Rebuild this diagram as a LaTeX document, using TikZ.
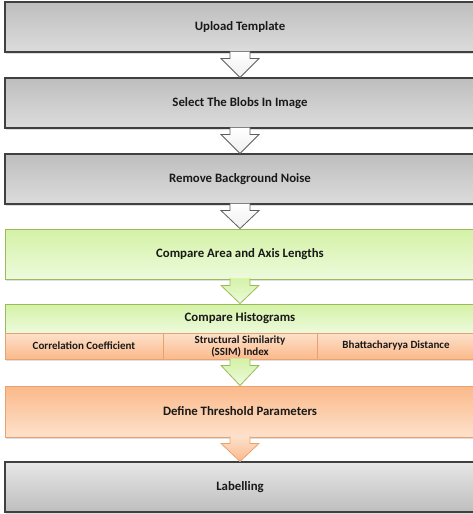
\documentclass[tikz,border=0pt]{standalone}
\usepackage{fontspec}
\setmainfont{Carlito}
\usepackage{xcolor}
\usepackage{tikz}
\usetikzlibrary{calc}
\usetikzlibrary{shadows}

\definecolor{grayedge}{HTML}{404040}
\definecolor{grayTop}{HTML}{BEBEBE}
\definecolor{grayBot}{HTML}{DCDCDC}
\definecolor{greenedge}{HTML}{9BBB59}
\definecolor{greenTop}{HTML}{D4F2A6}
\definecolor{greenBot}{HTML}{EDFADC}
\definecolor{orangeedge}{HTML}{E9A26E}
\definecolor{orangeTop}{HTML}{FBB98A}
\definecolor{orangeBot}{HTML}{FDE1CB}

\begin{document}
\begin{tikzpicture}
                \tikzset{Step/.style={%
                    shape=rectangle,%
                    minimum width=470pt,%
                    minimum height=50pt,%
                    inner sep=0pt,%
                    font=\fontsize{12.8}{14}\selectfont\bfseries,%
                    text=black!90,%
                    drop shadow={opacity=0.25,shadow xshift=1pt,shadow yshift=-2pt},%
                }}
                \tikzset{GrayStep/.style={%
                    Step,%
                    draw=grayedge,%
                    line width=1.1pt,%
                    top color=grayTop,%
                    bottom color=grayBot,%
                }}
                \tikzset{GreenStep/.style={%
                    Step,%
                    draw=greenedge,%
                    line width=0.8pt,%
                    top color=greenTop,%
                    bottom color=greenBot,%
                }}
                \tikzset{OrangeStep/.style={%
                    Step,%
                    draw=orangeedge,%
                    line width=0.8pt,%
                    top color=orangeTop,%
                    bottom color=orangeBot,%
                }}
                \tikzset{Method/.style={%
                    OrangeStep,%
                    minimum height=26pt,%
                    align=center,%
                    top color=orangeBot,%
                    bottom color=orangeTop,%
                    font=\fontsize{11}{12}\selectfont\bfseries,%
                }}
                \tikzset{Flow/.style={%
                    to path={let \p1=(\tikztostart), \p2=(\tikztotarget) in
                        (\x1-10pt,\y1+1pt) -- (\x1-10pt,\y1-6pt) -- (\x1-19pt,\y1-6pt)
                        -- (\x2,\y2) -- (\x1+19pt,\y1-6pt) -- (\x1+10pt,\y1-6pt)
                        -- (\x1+10pt,\y1+1pt)},%
                    line width=0.8pt,%
                    line join=miter,%
                }}
                \tikzset{GrayFlow/.style={Flow, draw=grayedge!85, top color=white, bottom color=gray!12}}
                \tikzset{GreenFlow/.style={Flow, draw=greenedge, top color=greenTop, bottom color=greenBot}}
                \tikzset{OrangeFlow/.style={Flow, draw=orangeedge, top color=orangeBot, bottom color=orangeTop}}

                \useasboundingbox (0,0) rectangle (472pt,-514pt);

                \node[GrayStep] (b1) at (240pt,-27pt) {Upload Template};
                \node[GrayStep, below of=b1, node distance=76pt] (b2) {Select The Blobs In Image};
                \node[GrayStep, below of=b2, node distance=76pt] (b3) {Remove Background Noise};
                \node[GreenStep, below of=b3, node distance=75pt] (b4) {Compare Area and Axis Lengths};
                \node[GreenStep, minimum height=29pt, below of=b4, node distance=64.5pt] (hist) {Compare Histograms};
                \node[Method, minimum width=154pt, below of=hist, node distance=27.5pt] (ssim) {Structural Similarity\\(SSIM) Index};
                \node[Method, minimum width=158pt, left of=ssim, node distance=156pt] (corr) {Correlation Coefficient};
                \node[Method, minimum width=158pt, right of=ssim, node distance=156pt] (bhat) {Bhattacharyya Distance};
                \node[OrangeStep, minimum height=51pt, below of=ssim, node distance=65.5pt] (b6) {Define Threshold Parameters};
                \node[GrayStep, top color=grayBot!70!white, bottom color=grayTop, below of=b6, node distance=75.5pt] (b7) {Labelling};

                \path (b1.south) edge[GrayFlow] (b2.north);
                \path (b2.south) edge[GrayFlow] (b3.north);
                \path (b3.south) edge[GrayFlow] (b4.north);
                \path (b4.south) edge[GreenFlow] (hist.north);
                \path (ssim.south) edge[GreenFlow] (b6.north);
                \path (b6.south) edge[OrangeFlow] (b7.north);
            \end{tikzpicture}
\end{document}
